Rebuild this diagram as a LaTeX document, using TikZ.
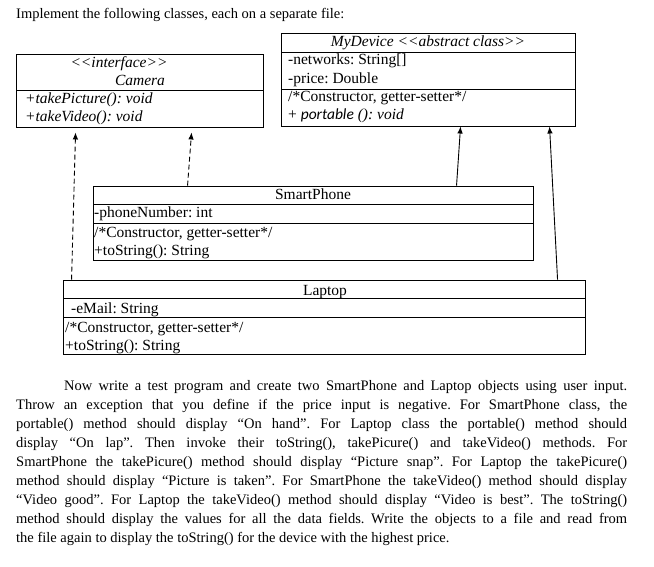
\documentclass[tikz,border=0pt]{standalone}
\usepackage{fontspec}
\setmainfont{Liberation Serif}
\newfontfamily\calfont{Carlito}
\usetikzlibrary{arrows.meta}
\frenchspacing

\newcommand{\boxfont}{\fontsize{15.5}{18}\selectfont}
\newcommand{\bodyfont}{\fontsize{14.5}{19}\selectfont}

\tikzset{
  classbox/.style={draw, line width=0.9pt, inner sep=0pt},
  member/.style={anchor=base west, inner sep=0pt, font=\boxfont},
  classname/.style={anchor=base, inner sep=0pt, font=\boxfont},
  realize/.style={line width=0.9pt, dash pattern=on 5pt off 3pt, -{Latex[length=7pt,width=5.5pt]}},
  inherit/.style={line width=0.9pt, -{Latex[length=7pt,width=5.5pt]}},
}

\begin{document}
\begin{tikzpicture}[x=1pt,y=-1pt]
  \useasboundingbox (0,0) rectangle (654,567);

  \node[anchor=base west, inner sep=0pt, font=\bodyfont] (head) at (16,19)
    {Implement the following classes, each on a separate file:};

  % Class boxes
  \node[classbox, minimum width=247pt, minimum height=73pt] (cam) at (139.5,90.5) {};
  \node[classbox, minimum width=294pt, minimum height=93pt] (dev) at (428,79.5) {};
  \node[classbox, minimum width=440pt, minimum height=74pt] (phone) at (313,223) {};
  \node[classbox, minimum width=522pt, minimum height=74pt] (lap) at (324,317) {};

  % Compartment lines
  \draw[line width=0.9pt] (16,90) -- (263,90);
  \draw[line width=0.9pt] (281,52) -- (575,52);
  \draw[line width=0.9pt] (281,89) -- (575,89);
  \draw[line width=0.9pt] (93,204) -- (533,204);
  \draw[line width=0.9pt] (93,223) -- (533,223);
  \draw[line width=0.9pt] (63,298) -- (585,298);
  \draw[line width=0.9pt] (63,317) -- (585,317);

  % Camera
  \node[classname] (cam1) at (119,68) {\itshape <{}<interface>{}>};
  \node[classname] (cam2) at (140,86) {\itshape Camera};
  \node[member] (cam3) at (25,104) {\itshape +takePicture(): void};
  \node[member] (cam4) at (25,122) {\itshape +takeVideo(): void};

  % MyDevice
  \node[classname] (dev1) at (428,47) {\itshape MyDevice <{}<abstract class>{}>};
  \node[member] (dev2) at (288,65) {-networks: String[]};
  \node[member] (dev3) at (288,84) {-price: Double};
  \node[member] (dev4) at (288,102) {/*Constructor, getter-setter*/};
  \node[member] (dev5) at (288,120) {\upshape + {\calfont\itshape portable} \textit{(): void}};

  % SmartPhone
  \node[classname] (phone1) at (313,200) {SmartPhone};
  \node[member] (phone2) at (94,218) {-phoneNumber: int};
  \node[member] (phone3) at (94,237) {/*Constructor, getter-setter*/};
  \node[member] (phone4) at (94,255) {+toString(): String};

  % Laptop
  \node[classname] (lap1) at (325,295) {Laptop};
  \node[member] (lap2) at (71,313) {-eMail: String};
  \node[member] (lap3) at (65,332) {/*Constructor, getter-setter*/};
  \node[member] (lap4) at (65,350) {+toString(): String};

  % Arrows to the parents
  \draw[realize] ([xshift=9pt]lap.north west) -- ([xshift=60pt,yshift=-5pt]cam.south west);
  \draw[realize] ([xshift=95pt]phone.north west) -- ([xshift=176pt,yshift=-5pt]cam.south west);
  \draw[inherit] ([xshift=364pt]phone.north west) -- ([xshift=180pt]dev.south west);
  \draw[inherit] ([xshift=495pt]lap.north west) -- ([xshift=269pt]dev.south west);

  \node[anchor=north west, inner sep=0pt, text width=611pt, align=justify, font=\bodyfont] (task) at (16,380.5)
    {\hspace*{48pt}Now write a test program and create two SmartPhone and Laptop objects using user input.\linebreak
     Throw an exception that you define if the price input is negative. For SmartPhone class, the\linebreak
     portable() method should display “On hand”. For Laptop class the portable() method should\linebreak
     display “On lap”. Then invoke their toString(), takePicure() and takeVideo() methods. For\linebreak
     SmartPhone the takePicure() method should display “Picture snap”. For Laptop the takePicure()\linebreak
     method should display “Picture is taken”. For SmartPhone the takeVideo() method should display\linebreak
     “Video good”. For Laptop the takeVideo() method should display “Video is best”. The toString()\linebreak
     method should display the values for all the data fields. Write the objects to a file and read from\linebreak
     the file again to display the toString() for the device with the highest price.};

\end{tikzpicture}
\end{document}
